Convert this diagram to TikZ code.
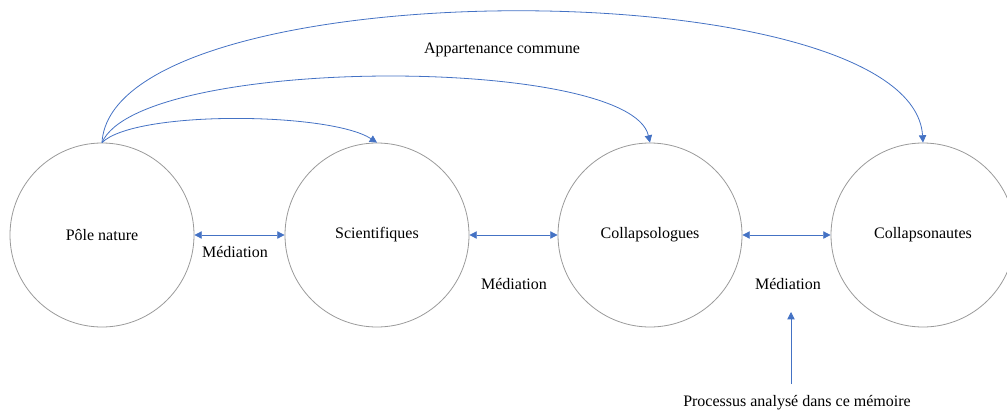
\documentclass[tikz,border=0pt]{standalone}
\usepackage{fontspec}
\setmainfont{Liberation Serif}
\usetikzlibrary{arrows.meta}
\definecolor{arrblue}{HTML}{4472C4}
\definecolor{ringgray}{HTML}{9A9A9A}
\begin{document}
\begin{tikzpicture}[x=0.75pt,y=-0.75pt,
  every node/.style={font=\fontsize{12}{14}\selectfont},
  pole/.style={circle,draw=ringgray,line width=0.6pt,minimum size=138pt,inner sep=0pt},
  link/.style={draw=arrblue,line width=0.6pt,-{Triangle[length=5.5pt,width=5.5pt]}},
  dlink/.style={draw=arrblue,line width=0.6pt,{Triangle[length=5.5pt,width=5.5pt]}-{Triangle[length=5.5pt,width=5.5pt]}},
  lbl/.style={inner sep=1pt}]
\useasboundingbox (0,0) rectangle (1007,411);
\node[pole] (n1) at (102,235) {Pôle nature};
\node[pole] (n2) at (377,235) {Scientifiques};
\node[pole] (n3) at (650,235) {Collapsologues};
\node[pole] (n4) at (923,235) {Collapsonautes};
\draw[dlink] (n1.east) -- (n2.west);
\draw[dlink] (n2.east) -- (n3.west);
\draw[dlink] (n3.east) -- (n4.west);
\node[lbl] (m1) at (235,252) {Médiation};
\node[lbl] (m2) at (514,284) {Médiation};
\node[lbl] (m3) at (788,284) {Médiation};
\node[lbl] (app) at (502,50) {Appartenance commune};
\node[lbl] (proc) at (797,403) {Processus analysé dans ce mémoire};
\coordinate (tip) at (791,312);
\coordinate (tail) at (791,384);
\draw[link] (n1.north) .. controls (135,110) and (330,112) .. (n2.north);
\draw[link] (n1.north) .. controls (140,55) and (630,55) .. (n3.north);
\draw[link] (n1.north) .. controls (112,-32) and (912,-32) .. (n4.north);
\draw[link] (tail) -- (tip);
\end{tikzpicture}
\end{document}
